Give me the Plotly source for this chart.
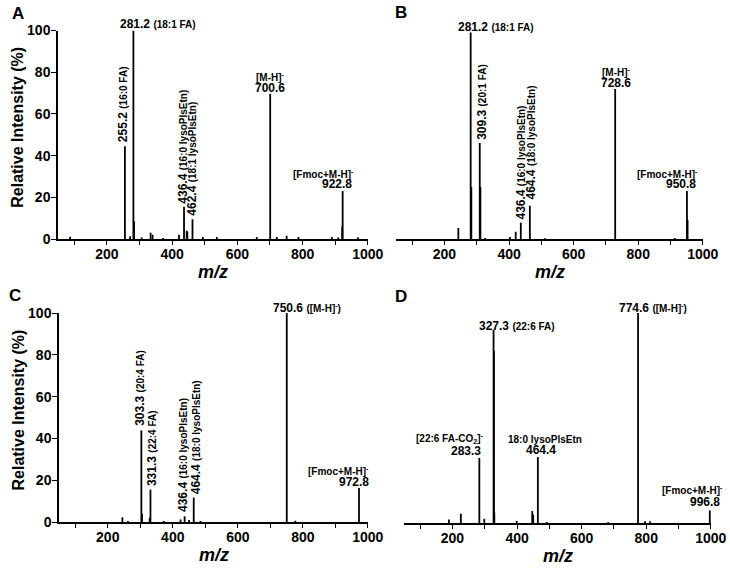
import plotly.graph_objects as go

# ---------------- data (m/z, relative intensity %) ----------------
a_mz = [87, 255.2, 271, 281.2, 283.2, 306.6, 334, 340, 372, 421, 436.4, 444.6, 446.5, 462.4,
        494, 537, 659.5, 700.6, 720.8, 751, 787, 889.5, 909, 921.3, 922.8, 970]
a_int = [1.1, 44.5, 1.3, 100, 8.5, 0.7, 3, 2, 0.5, 2, 15.5, 4, 3.5, 9.5,
         1, 1, 1, 69.5, 1, 1.5, 1, 1, 0.7, 6, 23, 0.8]

b_mz = [243, 281.2, 283.2, 309.3, 311.3, 325.5, 403, 420.6, 436.4, 464.4, 511, 728.6, 913, 950.8, 952.8]
b_int = [5.3, 99, 25, 46, 25, 0.5, 1, 3.5, 7.8, 16, 0.3, 72, 0.5, 23, 9]

c_mz = [245, 262, 303.3, 305.3, 329, 331.3, 372, 424, 436.4, 450, 464.4, 485, 750.6, 777, 972.8]
c_int = [2.2, 0.5, 43.8, 4, 2, 15.5, 0.5, 1.2, 2.7, 1, 11.7, 0.5, 100, 0.6, 16.3]

d_mz = [189, 226, 283.3, 298.6, 327.3, 328.5, 329.6, 399, 447, 450, 464.4, 491.8, 682, 774.6, 796, 812, 996.8]
d_int = [1.7, 4.4, 31, 2, 92, 82, 5, 1, 5.7, 4, 31.4, 0.5, 0.4, 100, 0.8, 0.8, 6]

x_ticks = [200, 400, 600, 800, 1000]
x_minor = [100, 300, 500, 700, 900]
y_ticks = [0, 20, 40, 60, 80, 100]
panel_letters = ["A", "B", "C", "D"]

# (panel, m/z, intensity, number, note, xshift, yshift)
labels_inline = [
    ("A", 281.2, 100, "281.2", "(18:1 FA)", -15, 6),
    ("B", 281.2, 99, "281.2", "(18:1 FA)", -15, 6),
    ("C", 750.6, 100, "750.6", "([M-H]<sup>-</sup>)", -16, 5),
    ("D", 774.6, 100, "774.6", "([M-H]<sup>-</sup>)", -21, 5),
    ("D", 327.3, 92, "327.3", "(22:6 FA)", -17, 4),
]
labels_rot = [
    ("A", 255.2, 44.5, "255.2", "(16:0 FA)", -2, 2),
    ("A", 436.4, 15.5, "436.4", "(16:0 lysoPlsEtn)", -1, 1),
    ("A", 462.4, 9.5, "462.4", "(18:1 lysoPlsEtn)", 0, 1),
    ("B", 309.3, 46, "309.3", "(20:1 FA)", 2, 1),
    ("B", 436.4, 7.8, "436.4", "(16:0 lysoPlsEtn)", 0, 1),
    ("B", 464.4, 16, "464.4", "(18:0 lysoPlsEtn)", 1, 4),
    ("C", 303.3, 43.8, "303.3", "(20:4 FA)", -1, 3),
    ("C", 331.3, 15.5, "331.3", "(22:4 FA)", 1, 2),
    ("C", 436.4, 2.7, "436.4", "(16:0 lysoPlsEtn)", -1, 2),
    ("C", 464.4, 11.7, "464.4", "(18:0 lysoPlsEtn)", 2, 1),
]
# (panel, m/z, intensity, number, header, anchor, xs_num, ys_num, xs_head, ys_head)
labels_stack = [
    ("A", 700.6, 69.5, "700.6", "[M-H]<sup>-</sup>", "center", 0, 6, 0, 17),
    ("A", 922.8, 23, "922.8", "[Fmoc+M-H]<sup>-</sup>", "right", 11, 7, 13, 17),
    ("B", 728.6, 72, "728.6", "[M-H]<sup>-</sup>", "center", 1, 6, 1, 17),
    ("B", 950.8, 23, "950.8", "[Fmoc+M-H]<sup>-</sup>", "right", 11, 7, 13, 17),
    ("C", 972.8, 16.3, "972.8", "[Fmoc+M-H]<sup>-</sup>", "right", 12, 6, 12, 17),
    ("D", 283.3, 31, "283.3", "[22:6 FA-CO<sub>2</sub>]<sup>-</sup>", "right", 4, 7, 6, 19),
    ("D", 464.4, 31.4, "464.4", "18:0 lysoPlsEtn", "center", 3, 7, 7, 18),
    ("D", 996.8, 6, "996.8", "[Fmoc+M-H]<sup>-</sup>", "right", 12, 8, 15, 20),
]

# ---------------- layout geometry (pixels) ----------------
W, H = 730, 568
FONT = "Liberation Sans, Arial, Helvetica, sans-serif"
panels = {
    # name: (x_left_px, x_right_px, y_bottom_px, y_top_px, axis index)
    "A": (58, 368, 239, 30.5, 1),
    "B": (396, 703, 239, 30.5, 2),
    "C": (59, 368, 522, 313, 3),
    "D": (404, 711, 523, 313, 4),
}
data = {"A": (a_mz, a_int), "B": (b_mz, b_int), "C": (c_mz, c_int), "D": (d_mz, d_int)}


def fx(px):
    return px / W


def fy(py):
    return 1 - py / H


fig = go.Figure()
BIG = 12
SMALL = 10

for name, (xl, xr, yb, yt, i) in panels.items():
    mz, inten = data[name]
    xs, ys = [], []
    for m, v in zip(mz, inten):
        xs += [m, m, None]
        ys += [0, v, None]
    xa = "x" if i == 1 else f"x{i}"
    ya = "y" if i == 1 else f"y{i}"
    fig.add_trace(go.Scatter(x=xs, y=ys, mode="lines", line=dict(color="black", width=1.8),
                             xaxis=xa, yaxis=ya, hoverinfo="skip", showlegend=False))
    show_y = name in ("A", "C")
    xkey = "xaxis" if i == 1 else f"xaxis{i}"
    ykey = "yaxis" if i == 1 else f"yaxis{i}"
    fig.update_layout({
        xkey: dict(domain=[fx(xl), fx(xr)], range=[50, 1000.5], anchor=ya, automargin=False,
                   tickmode="array", tickvals=x_ticks, ticktext=[str(t) for t in x_ticks],
                   ticks="outside", ticklen=4, tickwidth=1.3, tickcolor="black",
                   ticklabelstandoff=-3,
                   minor=dict(tickmode="array", tickvals=x_minor,
                              ticks="outside", ticklen=4, tickwidth=1.3, tickcolor="black"),
                   showline=True, linewidth=2, linecolor="black", showgrid=False, zeroline=False,
                   tickfont=dict(family=FONT, size=14, color="black", weight="bold")),
        ykey: dict(domain=[fy(yb), fy(yt)], range=[0, 100], anchor=xa, automargin=False,
                   tickmode="array", tickvals=y_ticks if show_y else [],
                   ticktext=[str(t) for t in y_ticks] if show_y else [],
                   ticks="outside" if show_y else "", ticklen=5, tickwidth=1.3, tickcolor="black",
                   ticklabelstandoff=-2,
                   showline=show_y, linewidth=1.5, linecolor="black", showgrid=False, zeroline=False,
                   tickfont=dict(family=FONT, size=14, color="black", weight="bold")),
    })

ann = []


def refs(p):
    i = panels[p][4]
    return ("x" if i == 1 else f"x{i}"), ("y" if i == 1 else f"y{i}")


def small(t):
    return f"<span style='font-size:{SMALL}px'>{t}</span>"


for p, m, v, num, note, xs_, ys_ in labels_inline:
    xr_, yr_ = refs(p)
    ann.append(dict(xref=xr_, yref=yr_, x=m, y=v, text=f"{num} {small(note)}", showarrow=False,
                    xanchor="left", yanchor="middle", xshift=xs_, yshift=ys_,
                    font=dict(family=FONT, size=BIG, color="black", weight="bold")))
for p, m, v, num, note, xs_, ys_ in labels_rot:
    xr_, yr_ = refs(p)
    ann.append(dict(xref=xr_, yref=yr_, x=m, y=v, text=f"{num} {small(note)}", showarrow=False,
                    textangle=-90, xanchor="center", yanchor="bottom", xshift=xs_, yshift=ys_,
                    font=dict(family=FONT, size=BIG, color="black", weight="bold")))
for p, m, v, num, head, anc, xsn, ysn, xsh, ysh in labels_stack:
    xr_, yr_ = refs(p)
    ann.append(dict(xref=xr_, yref=yr_, x=m, y=v, text=num, showarrow=False,
                    xanchor=anc, yanchor="middle", xshift=xsn, yshift=ysn,
                    font=dict(family=FONT, size=BIG, color="black", weight="bold")))
    ann.append(dict(xref=xr_, yref=yr_, x=m, y=v, text=head, showarrow=False,
                    xanchor=anc, yanchor="middle", xshift=xsh, yshift=ysh,
                    font=dict(family=FONT, size=SMALL, color="black", weight="bold")))

# axis titles and panel letters
for name, (xl, xr, yb, yt, i) in panels.items():
    ann.append(dict(xref="paper", yref="paper", x=fx((xl + xr) / 2), y=fy(yb + 33),
                    text="<i>m/z</i>", showarrow=False, xanchor="center", yanchor="middle",
                    font=dict(family=FONT, size=18, color="black", weight="bold")))
    if name in ("A", "C"):
        ann.append(dict(xref="paper", yref="paper", x=fx(18), y=fy((yb + yt) / 2 - 7),
                        text="Relative Intensity (%)", showarrow=False, textangle=-90,
                        xanchor="center", yanchor="middle",
                        font=dict(family=FONT, size=16, color="black", weight="bold")))
letter_pos = {"A": (18, 13), "B": (401, 12.5), "C": (15, 295), "D": (401, 296)}
for L in panel_letters:
    lx, ly = letter_pos[L]
    ann.append(dict(xref="paper", yref="paper", x=fx(lx), y=fy(ly), text=L, showarrow=False,
                    xanchor="center", yanchor="middle",
                    font=dict(family=FONT, size=17, color="black", weight="bold")))

fig.update_layout(template="none", width=W, height=H, margin=dict(l=0, r=0, t=0, b=0, autoexpand=False),
                  paper_bgcolor="white", plot_bgcolor="white", showlegend=False,
                  annotations=ann)
fig.write_html("out.html", config={"displayModeBar": False},
               post_script="document.body.style.margin='0';")
